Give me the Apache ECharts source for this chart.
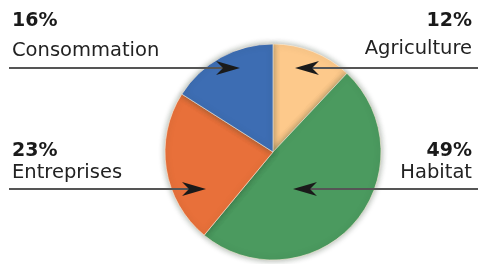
<!DOCTYPE html>
<html>
<head>
<meta charset="utf-8">
<script src="https://cdn.jsdelivr.net/npm/echarts@6/dist/echarts.min.js"></script>
<style>
html, body { margin: 0; padding: 0; background: #fff; }
#chart { width: 480px; height: 264px; }
</style>
</head>
<body>
<div id="chart"></div>
<script>
// données
const categories = ['Agriculture', 'Habitat', 'Entreprises', 'Consommation']
const values = [12, 49, 23, 16]
const colors = ['#fdc98b', '#4b9a5f', '#e8703a', '#3d6db3']

const chart = echarts.init(document.getElementById('chart'), null, { renderer: 'canvas' })

// annotations: texte + flèche
const font = '"DejaVu Sans", sans-serif'
const notes = [
  { i: 3, side: 'left', top: 12, gap: 29, lineY: 68, tip: 240 },
  { i: 0, side: 'right', top: 12, gap: 27, lineY: 68, tip: 295 },
  { i: 2, side: 'left', top: 142, gap: 21, lineY: 189, tip: 206 },
  { i: 1, side: 'right', top: 142, gap: 21, lineY: 189, tip: 293 }
]

const graphics = []
notes.forEach(n => {
  const left = n.side === 'left'
  const tx = left ? 12 : 472
  const align = left ? 'left' : 'right'
  graphics.push({
    type: 'text', x: tx, y: n.top,
    style: { text: values[n.i] + '%', font: 'bold 19px ' + font, fill: '#1a1a1a', textAlign: align, textVerticalAlign: 'top' }
  })
  graphics.push({
    type: 'text', x: tx, y: n.top + n.gap,
    style: { text: categories[n.i], font: '19.5px ' + font, fill: '#222', textAlign: align, textVerticalAlign: 'top' }
  })
  const x0 = left ? 9 : 478
  const dir = left ? 1 : -1
  graphics.push({
    type: 'line', z: 10,
    shape: { x1: x0, y1: n.lineY, x2: n.tip - dir * 14, y2: n.lineY },
    style: { stroke: '#555', lineWidth: 2 }
  })
  graphics.push({
    type: 'polygon', z: 11,
    shape: { points: [
      [n.tip, n.lineY],
      [n.tip - dir * 24, n.lineY - 7],
      [n.tip - dir * 17, n.lineY],
      [n.tip - dir * 24, n.lineY + 7]
    ] },
    style: { fill: '#1a1a1a' }
  })
})

const option = {
  animation: false,
  series: [{
    type: 'pie',
    center: [273, 152],
    radius: 108,
    startAngle: 90,
    clockwise: true,
    label: { show: false },
    labelLine: { show: false },
    emphasis: { disabled: true },
    itemStyle: {
      borderColor: 'rgba(255,240,220,0.6)',
      borderWidth: 1,
      shadowBlur: 6,
      shadowColor: 'rgba(40,60,40,0.45)'
    },
    data: categories.map((c, i) => ({ name: c, value: values[i], itemStyle: { color: colors[i] } }))
  }],
  graphic: graphics
}
chart.setOption(option)
</script>
</body>
</html>
